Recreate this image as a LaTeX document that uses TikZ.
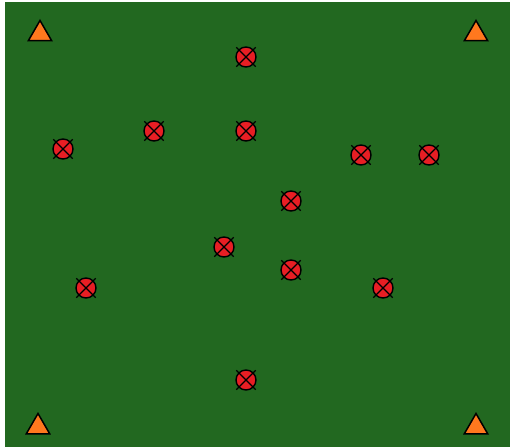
\documentclass[tikz,border=0pt]{standalone}
\usetikzlibrary{shapes.geometric}
\definecolor{field}{RGB}{34,104,32}
\definecolor{tgtred}{RGB}{232,30,36}
\definecolor{conorange}{RGB}{255,120,30}
\tikzset{
  target/.style={circle, draw=black, fill=tgtred, line width=1.4pt, minimum size=20pt, inner sep=0pt},
  crossline/.style={draw=black, line width=1.1pt, shorten <=-3pt, shorten >=-3pt},
  cone/.style={regular polygon, regular polygon sides=3, draw=black, fill=conorange, line width=1.5pt, minimum size=27pt, inner sep=0pt},
}
\begin{document}
\begin{tikzpicture}[x=1pt,y=1pt]
\useasboundingbox (0,0) rectangle (510,447);
\fill[white] (0,0) rectangle (510,447);
\fill[field] (5,0) rectangle (510,445);
% cones (corners)
\node[cone] (c1) at (40,413) {};
\node[cone] (c2) at (476,413) {};
\node[cone] (c3) at (38,20) {};
\node[cone] (c4) at (476,20) {};
% targets
\foreach \n/\x/\y in {t1/246/390, t2/154/316, t3/246/316, t4/63/298, t5/361/292, t6/429/292, t7/291/246, t8/224/200, t9/291/177, t10/86/159, t11/383/159, t12/246/67}{
  \node[target] (\n) at (\x,\y) {};
  \draw[crossline] (\n.north west) -- (\n.south east);
  \draw[crossline] (\n.north east) -- (\n.south west);
}
\end{tikzpicture}
\end{document}
